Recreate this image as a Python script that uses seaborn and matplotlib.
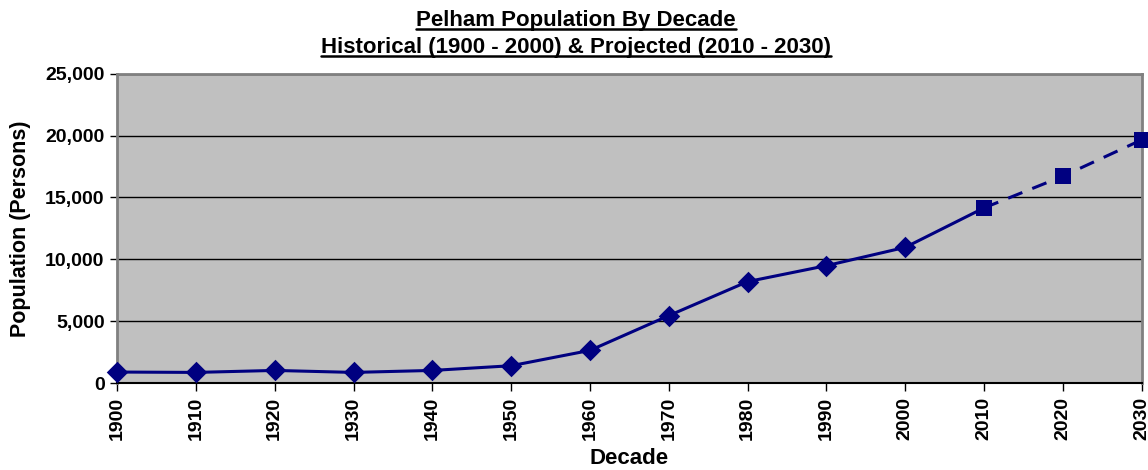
import matplotlib
matplotlib.use("Agg")
import matplotlib.pyplot as plt
from matplotlib.lines import Line2D
from matplotlib.ticker import FuncFormatter, MultipleLocator
import numpy as np
import pandas as pd
import seaborn as sns

# Census counts (1900-2000) and projections (2010-2030)
decades = [1900, 1910, 1920, 1930, 1940, 1950, 1960, 1970, 1980, 1990, 2000]
population = [890, 860, 1020, 860, 1020, 1400, 2640, 5450, 8200, 9490, 10970]
projected_decades = [2010, 2020, 2030]
projected_population = [14160, 16720, 19660]
tick_years = decades + projected_decades

title_lines = ["Pelham Population By Decade",
               "Historical (1900 - 2000) & Projected (2010 - 2030)"]

sns.set_style("white")
plt.rcParams["font.family"] = ["Liberation Sans", "DejaVu Sans"]
plt.rcParams["font.weight"] = "bold"
plt.rcParams["text.color"] = "black"
plt.rcParams["axes.labelcolor"] = "black"
plt.rcParams["xtick.color"] = "black"
plt.rcParams["ytick.color"] = "black"

navy = "#000080"
fig = plt.figure(figsize=(11.48, 4.70), dpi=100)
ax = fig.add_axes([0.102, 0.185, 0.8925, 0.658])
ax.set_facecolor("#C0C0C0")

hist = pd.DataFrame({"Decade": decades, "Population": population})
proj = pd.DataFrame({"Decade": projected_decades, "Population": projected_population})
# solid line runs through the first projected decade
solid = pd.concat([hist, proj.iloc[:1]], ignore_index=True)

sns.lineplot(data=solid, x="Decade", y="Population", ax=ax, color=navy,
             linewidth=2.2, zorder=3)
sns.lineplot(data=proj, x="Decade", y="Population", ax=ax, color=navy,
             linewidth=2.2, linestyle=(0, (5, 3.5)), zorder=3)
sns.scatterplot(data=hist, x="Decade", y="Population", ax=ax, color=navy,
                marker="D", s=120, edgecolor=navy, linewidth=0, zorder=4)
sns.scatterplot(data=proj, x="Decade", y="Population", ax=ax, color=navy,
                marker="s", s=120, edgecolor=navy, linewidth=0, zorder=4)
for c in ax.collections:
    c.set_clip_on(False)

ax.set_xlim(1900, 2030)
ax.set_ylim(0, 25000)
ax.set_xticks(tick_years)
ax.set_xticklabels([str(y) for y in tick_years], rotation=90,
                   fontsize=14, fontweight="bold")
ax.yaxis.set_major_locator(MultipleLocator(5000))
ax.yaxis.set_major_formatter(FuncFormatter(lambda v, p: f"{int(v):,}"))
for lab in ax.get_yticklabels():
    lab.set_fontsize(14)
    lab.set_fontweight("bold")

ax.grid(axis="y", color="black", linewidth=1.0)
ax.grid(axis="x", visible=False)
ax.set_axisbelow(True)

for side in ["top", "right", "left"]:
    ax.spines[side].set_color("#808080")
    ax.spines[side].set_linewidth(2.0)
ax.spines["bottom"].set_color("black")
ax.spines["bottom"].set_linewidth(1.5)

ax.tick_params(axis="x", direction="out", length=6, width=1, color="black",
               pad=4, bottom=True)
ax.tick_params(axis="y", direction="out", length=5, width=1, color="black",
               pad=4, left=True)

ax.set_xlabel("Decade", fontsize=16, fontweight="bold")
ax.set_ylabel("Population (Persons)", fontsize=15.5, fontweight="bold")
ax.xaxis.set_label_coords(0.5, -0.245)
ax.yaxis.set_label_coords(-0.094, 0.5)
ax.xaxis.label.set_va("center")
ax.yaxis.label.set_va("center")

# underlined two-line title
title_texts = []
for i, line in enumerate(title_lines):
    t = fig.text(0.502, 0.957 - i * 0.057, line, ha="center", va="center",
                 fontsize=16, fontweight="bold")
    title_texts.append(t)

fig.canvas.draw()
renderer = fig.canvas.get_renderer()
inv = fig.transFigure.inverted()
for t in title_texts:
    bb = t.get_window_extent(renderer)
    (x0, y0), (x1, y1) = inv.transform([(bb.x0, bb.y0), (bb.x1, bb.y1)])
    uy = y0 + 0.004
    fig.lines.append(Line2D([x0, x1], [uy, uy], transform=fig.transFigure,
                            color="black", linewidth=1.8))

fig.savefig("out.png", dpi=100)
